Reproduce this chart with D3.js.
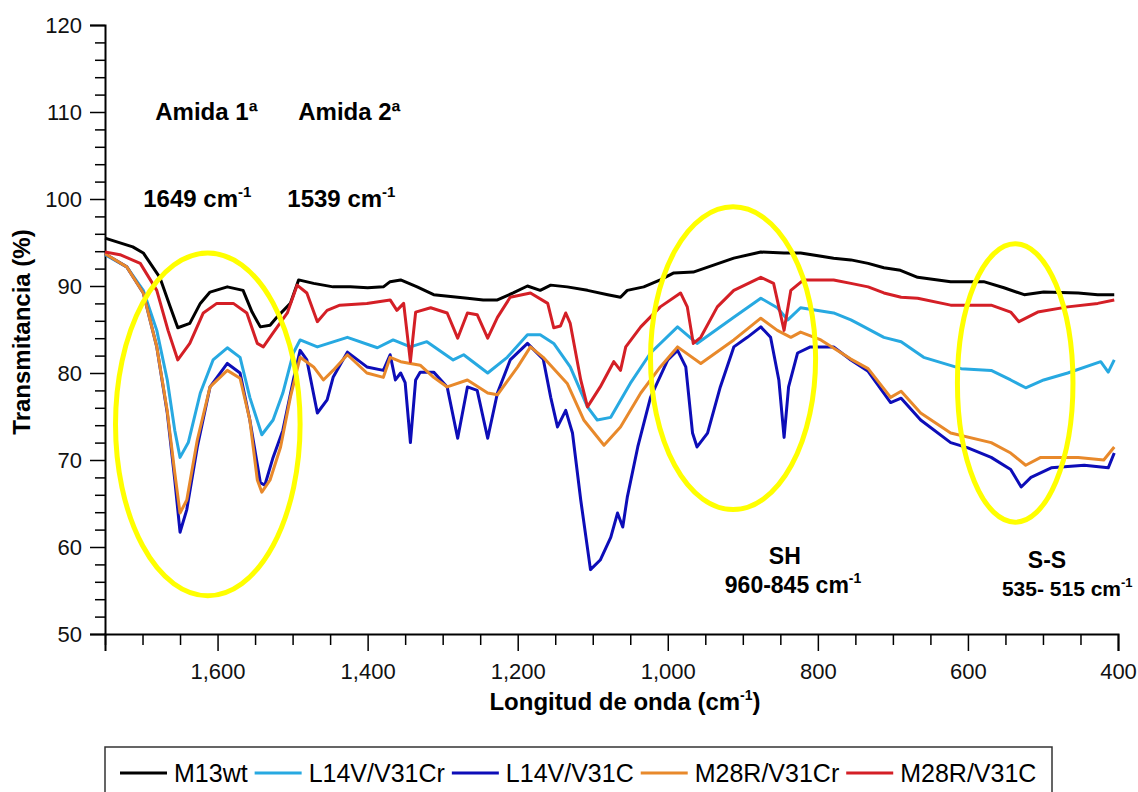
<!DOCTYPE html>
<html>
<head>
<meta charset="utf-8">
<script src="https://cdn.jsdelivr.net/npm/d3@7"></script>
<style>
  body { margin: 0; background: #fff; }
  svg { display: block; font-family: "Liberation Sans", Arial, sans-serif; }
</style>
</head>
<body>
<svg id="chart" width="1138" height="792"></svg>
<script>
// [wavenumber cm-1, transmittance %]
const m13wt = [[1750,95.5],[1713,94.5],[1699,93.8],[1677,91],[1663,87.6],[1653,85.2],[1637,85.7],[1623,88],[1610,89.3],[1587,89.9],[1566,89.5],[1554,87],[1543,85.3],[1530,85.5],[1521,86.4],[1503,88],[1492,90.7],[1472,90.3],[1446,89.9],[1423,89.9],[1400,89.8],[1379,89.9],[1370,90.5],[1356,90.7],[1334,89.9],[1312,89],[1267,88.6],[1246,88.4],[1227,88.4],[1206,89.2],[1187,90],[1170,89.5],[1156,90.1],[1134,89.9],[1107,89.5],[1080,89],[1063,88.7],[1054,89.5],[1032,89.9],[1010,90.7],[992,91.5],[966,91.6],[939,92.4],[912,93.2],[876,93.9],[845,93.8],[823,93.8],[779,93.2],[756,93],[733,92.6],[712,92.1],[690,91.8],[667,91],[623,90.5],[579,90.5],[552,89.8],[525,89],[499,89.3],[453,89.2],[427,89],[405,89]];

const l14vCr = [[1750,93.6],[1721,92.2],[1699,89.5],[1681,84.9],[1667,79.2],[1657,73.4],[1650,70.3],[1639,72],[1623,77.7],[1606,81.5],[1587,82.9],[1570,81.8],[1557,77.2],[1541,72.9],[1526,74.6],[1513,77.7],[1499,82.3],[1490,83.8],[1467,83],[1427,84.1],[1387,82.9],[1366,83.8],[1343,83],[1321,83.6],[1286,81.5],[1272,82.1],[1240,80],[1214,81.8],[1187,84.4],[1170,84.4],[1152,83.4],[1130,80.7],[1107,76.1],[1094,74.6],[1076,74.9],[1050,78.8],[1023,82.3],[987,85.3],[961,83.4],[912,86.4],[876,88.6],[854,87.5],[840,86.1],[823,87.5],[779,86.9],[756,86.1],[747,85.7],[712,84.1],[689,83.6],[659,81.8],[609,80.5],[569,80.3],[543,79.2],[523,78.3],[499,79.2],[467,80],[423,81.3],[413,80.1],[405,81.5]];

const l14vC = [[1750,93.7],[1721,92.2],[1699,89.2],[1681,83],[1667,75.4],[1657,67.7],[1650,61.7],[1641,64.3],[1627,71.5],[1610,78.4],[1587,81.1],[1570,80],[1557,74.6],[1543,67.4],[1537,67.1],[1526,70.3],[1513,73.4],[1499,79.2],[1490,82.6],[1481,81.5],[1467,75.4],[1454,76.9],[1446,79.5],[1427,82.4],[1401,80.7],[1379,80.3],[1370,82.1],[1363,79.2],[1356,80],[1350,78.9],[1343,72],[1336,79.2],[1330,80.1],[1312,80.1],[1294,78.4],[1280,72.5],[1267,78.4],[1254,78],[1240,72.5],[1227,77.7],[1210,81.5],[1187,83.4],[1166,81.6],[1156,77.2],[1147,73.8],[1136,75.7],[1127,73.1],[1116,65.4],[1103,57.4],[1090,58.5],[1076,61.1],[1067,63.9],[1060,62.3],[1054,65.7],[1040,71.5],[1023,77.2],[1000,81.5],[987,82.6],[976,80.7],[967,73.1],[961,71.5],[947,73.1],[930,78.4],[912,83],[894,84.1],[876,85.3],[863,84.1],[852,79.2],[845,72.6],[839,78.4],[827,82.3],[810,83],[779,83],[756,81.5],[733,80.2],[703,76.6],[689,77.1],[663,74.6],[623,72],[600,71.4],[569,70.3],[543,68.9],[529,66.9],[516,68],[489,69.1],[445,69.4],[413,69.1],[405,70.8]];

const m28rCr = [[1750,93.7],[1721,92.2],[1699,89.2],[1681,83],[1667,75.6],[1657,68.5],[1650,63.9],[1641,65.4],[1627,72.3],[1610,78.4],[1587,80.3],[1570,79.4],[1557,74.6],[1547,67.7],[1541,66.3],[1530,67.7],[1516,71.5],[1503,77.2],[1490,81.8],[1472,80.7],[1459,79.2],[1446,80.3],[1427,82.1],[1401,80],[1379,79.5],[1370,81.8],[1356,81.3],[1330,80.9],[1312,79.5],[1294,78.4],[1267,79.2],[1240,77.7],[1227,77.5],[1200,80.7],[1183,83],[1166,81.8],[1134,78.8],[1112,74.6],[1085,71.7],[1063,73.8],[1036,77.7],[1010,80.7],[987,83],[956,81.1],[912,83.8],[876,86.3],[854,84.9],[836,84.1],[823,84.7],[796,83.8],[756,81.6],[733,80.5],[703,77.2],[689,77.9],[663,75.4],[623,73.1],[569,72],[543,70.8],[523,69.4],[503,70.3],[453,70.3],[419,70],[405,71.5]];

const m28rC = [[1750,93.9],[1730,93.6],[1703,92.6],[1681,89.5],[1666,84.9],[1653,81.5],[1637,83.4],[1619,86.9],[1601,88],[1579,88],[1561,86.9],[1547,83.4],[1539,83],[1526,84.6],[1507,86.9],[1494,90.1],[1481,89.2],[1467,85.9],[1454,87.2],[1437,87.8],[1401,88],[1370,88.4],[1361,87.2],[1352,88],[1343,81.3],[1336,87],[1316,87.5],[1294,86.9],[1280,84],[1267,86.9],[1254,86.7],[1240,84],[1227,86.4],[1210,88.7],[1183,89.2],[1160,88],[1152,85.2],[1143,85.4],[1136,86.9],[1130,85.7],[1116,79.2],[1107,76.1],[1090,78.4],[1072,81.3],[1063,80.3],[1056,83],[1036,85.3],[1010,87.6],[983,89.2],[974,87.6],[966,83.4],[956,84.1],[934,87.6],[912,89.5],[876,91],[859,90.3],[845,84.9],[836,89.5],[819,90.7],[779,90.7],[756,90.3],[733,89.9],[712,89.2],[689,88.7],[667,88.6],[623,87.8],[569,87.8],[543,87],[532,85.9],[507,87],[467,87.6],[427,88],[405,88.4]];

const seriesNames = ["M13wt", "L14V/V31Cr", "L14V/V31C", "M28R/V31Cr", "M28R/V31C"];
const seriesColors = ["#000000", "#27a9e1", "#0d0db8", "#e8892b", "#d41f26"];
const seriesData = [m13wt, l14vCr, l14vC, m28rCr, m28rC];

// highlighted regions: [center wn, center T, half width wn, half height T]
const regions = [[1613, 74.1, 123, 19.7], [913, 81.7, 110, 17.4], [537, 78.85, 77, 16]];

const svg = d3.select("#chart");
const x = d3.scaleLinear().domain([1750, 400]).range([105, 1118]);
const y = d3.scaleLinear().domain([50, 120]).range([634, 25]);

// axes
const yMajor = d3.range(50, 121, 10);
const yMinor = d3.range(50, 121, 2).filter(d => d % 10 !== 0);
const xMajor = d3.range(1600, 399, -200);
const xMinor = d3.range(1750, 399, -50).filter(d => d % 200 !== 0);

svg.append("g")
    .attr("transform", "translate(105,0)")
    .call(d3.axisLeft(y).tickValues(yMinor).tickSize(10).tickFormat(""))
    .call(g => g.select(".domain").remove())
    .selectAll("line").attr("stroke-width", 1.5);

svg.append("g")
    .attr("transform", "translate(105,0)")
    .call(d3.axisLeft(y).tickValues(yMajor).tickSize(15).tickPadding(8))
    .call(g => g.select(".domain").attr("stroke-width", 2))
    .call(g => g.selectAll("line").attr("stroke-width", 1.5))
    .selectAll("text")
    .attr("font-size", 22)
    .attr("font-family", "Liberation Sans, Arial, sans-serif")
    .attr("fill", "#111");

svg.append("g")
    .attr("transform", "translate(0,634)")
    .call(d3.axisBottom(x).tickValues(xMinor).tickSize(11).tickFormat(""))
    .call(g => g.select(".domain").remove())
    .selectAll("line").attr("stroke-width", 1.5);

svg.append("g")
    .attr("transform", "translate(0,634)")
    .call(d3.axisBottom(x).tickValues(xMajor).tickSize(17).tickPadding(12).tickFormat(d3.format(",")))
    .call(g => g.select(".domain").attr("stroke-width", 2))
    .call(g => g.selectAll("line").attr("stroke-width", 1.5))
    .selectAll("text")
    .attr("font-size", 22)
    .attr("font-family", "Liberation Sans, Arial, sans-serif")
    .attr("fill", "#111");

// axis titles
const xTitle = svg.append("text")
    .attr("x", 625).attr("y", 710)
    .attr("text-anchor", "middle")
    .attr("font-size", 24).attr("font-weight", "bold");
xTitle.append("tspan").text("Longitud de onda (cm");
xTitle.append("tspan").attr("font-size", 14).attr("dy", -10).text("-1");
xTitle.append("tspan").attr("dy", 10).text(")");

svg.append("text")
    .attr("transform", "translate(30,332) rotate(-90)")
    .attr("text-anchor", "middle")
    .attr("font-size", 24).attr("font-weight", "bold")
    .text("Transmitancia (%)");

// spectra
const line = d3.line().x(d => x(d[0])).y(d => y(d[1]));
svg.append("g")
    .selectAll("path")
    .data(seriesData)
    .join("path")
    .attr("d", line)
    .attr("fill", "none")
    .attr("stroke", (d, i) => seriesColors[i])
    .attr("stroke-width", 3)
    .attr("stroke-linejoin", "round");

// yellow ellipses
svg.append("g")
    .selectAll("ellipse")
    .data(regions)
    .join("ellipse")
    .attr("cx", d => x(d[0]))
    .attr("cy", d => y(d[1]))
    .attr("rx", d => Math.abs(x(d[0] + d[2]) - x(d[0])))
    .attr("ry", d => Math.abs(y(d[1] + d[3]) - y(d[1])))
    .attr("fill", "none")
    .attr("stroke", "#ffff00")
    .attr("stroke-width", 5);

// annotations
function label(wn, t, main, sup, size, anchor) {
    const txt = svg.append("text")
        .attr("x", x(wn)).attr("y", y(t))
        .attr("font-size", size).attr("font-weight", "bold")
        .attr("text-anchor", anchor || "start");
    txt.append("tspan").text(main);
    if (sup) txt.append("tspan").attr("font-size", Math.round(size * 0.62)).attr("dy", -size * 0.42).text(sup);
}
label(1683, 109.1, "Amida 1ª", null, 24);
label(1492.5, 109.1, "Amida 2ª", null, 24);
label(1699, 99.1, "1649 cm", "-1", 24);
label(1507, 99.1, "1539 cm", "-1", 24);
label(844, 58.05, "SH", null, 23, "middle");
label(924, 54.7, "960-845 cm", "-1", 23);
label(494.6, 57.6, "S-S", null, 23, "middle");
label(554.7, 54.4, "535- 515 cm", "-1", 21);

// legend
const legend = svg.append("g");
legend.append("rect")
    .attr("x", 105).attr("y", 747)
    .attr("width", 947).attr("height", 70)
    .attr("fill", "none").attr("stroke", "#333").attr("stroke-width", 1.5);
let lx = 120;
seriesNames.forEach((name, i) => {
    legend.append("line")
        .attr("x1", lx).attr("x2", lx + 47)
        .attr("y1", 773).attr("y2", 773)
        .attr("stroke", seriesColors[i]).attr("stroke-width", 3);
    const t = legend.append("text")
        .attr("x", lx + 54).attr("y", 782)
        .attr("font-size", 25)
        .text(name);
    lx += 54 + t.node().getComputedTextLength() + 7;
});
</script>
</body>
</html>
